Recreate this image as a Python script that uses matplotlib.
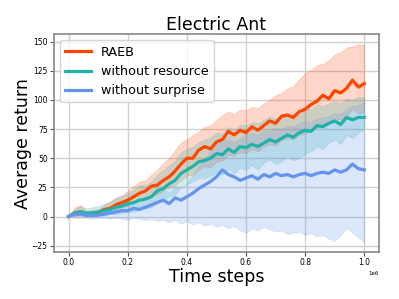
import numpy as np
import matplotlib
matplotlib.use("Agg")
import matplotlib.pyplot as plt

# time steps (x 1e6)
steps = np.arange(0, 51) * 0.02e6

raeb_mean = [0, 3, 4, 2, 3, 3, 6, 7, 10, 12, 14, 17, 20, 22, 26, 27, 31, 34, 39, 45,
             50, 50, 57, 60, 58, 64, 66, 73, 70, 74, 72, 77, 74, 78, 82, 80, 86, 87, 85, 90,
             92, 96, 99, 104, 101, 108, 106, 110, 117, 111, 114]
raeb_upper = [0, 8, 10, 5, 6, 6, 10, 13, 16, 18, 22, 26, 30, 31, 36, 40, 46, 50, 57, 64,
              66, 70, 73, 77, 78, 83, 87, 90, 88, 92, 91, 94, 93, 97, 100, 104, 106, 110, 112, 118,
              123, 126, 130, 131, 134, 139, 141, 145, 146, 148, 147]
raeb_lower = [0, 0, 1, 0, 1, 1, 3, 4, 6, 8, 9, 11, 14, 15, 18, 19, 22, 25, 27, 31,
              35, 36, 40, 43, 42, 47, 48, 53, 52, 55, 54, 58, 56, 60, 62, 61, 66, 67, 66, 70,
              71, 74, 76, 80, 79, 84, 83, 86, 92, 88, 90]

nores_mean = [0, 3, 4, 3, 3, 4, 5, 6, 8, 9, 11, 12, 14, 15, 17, 22, 24, 28, 31, 37,
              40, 43, 47, 48, 50, 54, 53, 58, 55, 60, 59, 62, 60, 63, 66, 64, 67, 70, 68, 72,
              74, 73, 78, 77, 80, 82, 79, 85, 83, 85, 85]
nores_upper = [0, 6, 9, 7, 8, 9, 11, 12, 16, 18, 20, 23, 27, 27, 30, 36, 40, 44, 48, 55,
               58, 60, 64, 66, 68, 72, 71, 77, 74, 79, 78, 81, 80, 83, 86, 84, 87, 89, 88, 91,
               93, 92, 96, 95, 97, 99, 97, 101, 100, 103, 102]
nores_lower = [0, 1, 1, 0, 0, 1, 1, 2, 2, 3, 4, 4, 6, 7, 8, 12, 14, 17, 19, 25,
               28, 30, 33, 33, 35, 38, 36, 41, 37, 42, 40, 44, 40, 46, 49, 45, 47, 52, 48, 50,
               54, 56, 60, 58, 63, 66, 62, 70, 67, 72, 75]

nosur_mean = [0, 2, 2, 1, 1, 1, 2, 3, 4, 5, 5, 7, 6, 8, 10, 12, 14, 11, 16, 14,
              17, 20, 24, 27, 30, 34, 40, 36, 34, 31, 33, 35, 32, 36, 34, 37, 35, 36, 34, 36,
              37, 35, 37, 38, 37, 40, 38, 40, 45, 41, 40]
nosur_upper = [0, 4, 5, 3, 3, 3, 4, 6, 8, 9, 10, 13, 12, 15, 18, 21, 24, 20, 26, 24,
               28, 36, 44, 50, 56, 62, 68, 66, 64, 67, 70, 72, 70, 74, 73, 76, 75, 78, 77, 80,
               82, 81, 84, 85, 86, 89, 88, 92, 95, 96, 98]
nosur_lower = [0, -1, -1, -1, -2, -1, -1, -2, -1, -2, -3, -1, -2, -3, -2, -4, -3, -5, -3, -6,
               -4, -7, -5, -8, -6, -9, -7, -10, -8, -12, -14, -10, -12, -9, -11, -13, -12, -15, -14, -13,
               -16, -14, -17, -16, -19, -21, -16, -10, -14, -18, -22]

labels = ['RAEB', 'without resource', 'without surprise']
colors = ['#FF4500', '#20B2AA', '#6495ED']

fig = plt.figure(figsize=(3.99, 2.99), dpi=100)
ax = fig.add_axes([0.135, 0.157, 0.815, 0.729])

series = [(raeb_mean, raeb_lower, raeb_upper),
          (nores_mean, nores_lower, nores_upper),
          (nosur_mean, nosur_lower, nosur_upper)]
for (m, lo, hi), lab, c in zip(series, labels, colors):
    ax.fill_between(steps, lo, hi, color=c, alpha=0.22, linewidth=0.5)
    ax.plot(steps, m, color=c, lw=2.3, label=lab)

ax.set_yticks([-25, 0, 25, 50, 75, 100, 125, 150])
ax.tick_params(labelsize=5.5, length=3, pad=1.5, color='#555555')
ax.grid(True, color='#d0d0d0', lw=1)
ax.set_axisbelow(True)
for s in ax.spines.values():
    s.set_color('#888888')
    s.set_linewidth(1.2)
ax.xaxis.get_offset_text().set_fontsize(4)

ax.set_title('Electric Ant', fontsize=12.5, pad=3)
ax.set_xlabel('Time steps', fontsize=12.5)
ax.set_ylabel('Average return', fontsize=12.5)
ax.xaxis.set_label_coords(0.5, -0.072)
ax.yaxis.set_label_coords(-0.068, 0.5)
ax.legend(loc='upper left', fontsize=9.2, handlelength=2.0, borderaxespad=0.5,
          framealpha=0.8, edgecolor='#cccccc')

fig.savefig('out.png', dpi=100)
